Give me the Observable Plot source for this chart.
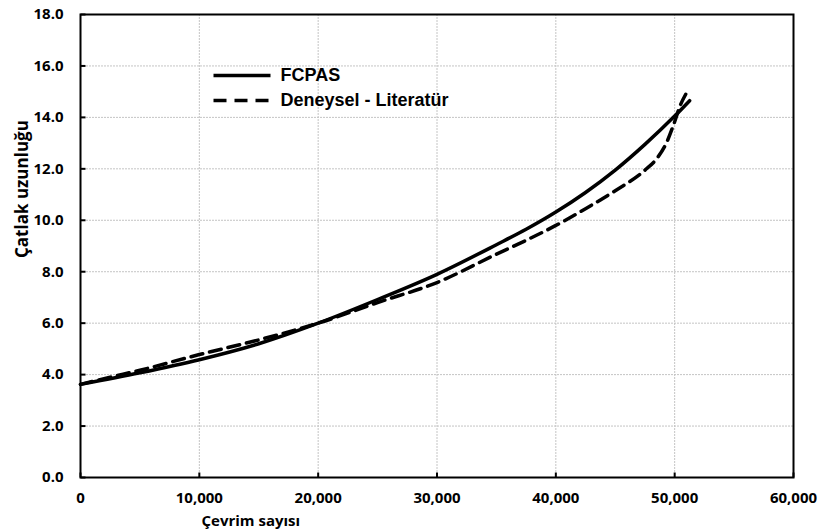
<!DOCTYPE html>
<html><head><meta charset="utf-8">
<script src="https://cdn.jsdelivr.net/npm/d3@7"></script>
<script src="https://cdn.jsdelivr.net/npm/@observablehq/plot@0.6"></script>
<style>body{margin:0;background:#fff}</style>
</head><body><div id="chart"></div>
<script>
// FCPAS (solid)
const fcpasN = [0, 5000, 10000, 15000, 20000, 25000, 30000, 35000, 37500, 40000, 42500, 45000, 47500, 50000, 51260];
const fcpasA = [3.62, 4.07, 4.58, 5.2, 6.0, 6.92, 7.9, 9.05, 9.65, 10.32, 11.08, 11.95, 12.95, 14.05, 14.65];
// Deneysel - Literatür (dashed)
const deneyN = [0, 2500, 5000, 10000, 15000, 20000, 25000, 30000, 35000, 37500, 40000, 42500, 45000, 47500, 48500, 49300, 49900, 50500, 50930];
const deneyA = [3.62, 3.9, 4.17, 4.78, 5.35, 6.0, 6.8, 7.58, 8.68, 9.22, 9.8, 10.45, 11.15, 11.95, 12.4, 13.0, 13.7, 14.5, 14.9];

const xTicks = [0, 10000, 20000, 30000, 40000, 50000, 60000];
const yTicks = [0, 2, 4, 6, 8, 10, 12, 14, 16, 18];
const legendLabels = ["FCPAS", "Deneysel - Literatür"];
const xTitle = "Çevrim sayısı";
const yTitle = "Çatlak uzunluğu";

const fcpas = fcpasN.map((n, i) => ({n, a: fcpasA[i]}));
const deney = deneyN.map((n, i) => ({n, a: deneyA[i]}));

const lineShape = {draw(ctx, l) { ctx.moveTo(0, 0); ctx.lineTo(0, -l); }};
const font = "'Open Sans', sans-serif";

const chart = Plot.plot({
  width: 823, height: 531,
  marginLeft: 80, marginRight: 30, marginTop: 14, marginBottom: 54,
  style: {fontFamily: font, background: "#fff", color: "#000"},
  x: {domain: [0, 60000]},
  y: {domain: [0, 18]},
  marks: [
    Plot.gridX(xTicks, {stroke: "#c4c4c4", strokeOpacity: 1, strokeDasharray: "2,1"}),
    Plot.gridY(yTicks, {stroke: "#c4c4c4", strokeOpacity: 1, strokeDasharray: "2,1"}),
    Plot.line(fcpas, {x: "n", y: "a", stroke: "black", strokeWidth: 3.5, curve: "monotone-x"}),
    Plot.line(deney, {x: "n", y: "a", stroke: "black", strokeWidth: 3.5, strokeDasharray: "12,7", curve: "monotone-x"}),
    Plot.vector(xTicks, {x: d => d, frameAnchor: "bottom", length: 5, rotate: 0, anchor: "start", shape: lineShape, stroke: "black", strokeWidth: 2, strokeLinecap: "butt", fill: "none"}),
    Plot.vector(yTicks, {y: d => d, frameAnchor: "left", length: 5, rotate: 90, anchor: "start", shape: lineShape, stroke: "black", strokeWidth: 2, strokeLinecap: "butt", fill: "none"}),
    Plot.frame({stroke: "black", strokeWidth: 2}),
    Plot.axisX(xTicks, {tickSize: 0, tickPadding: 15, tickFormat: d => d3.format(",")(d), fontSize: 15, fontWeight: "bold", label: null}),
    Plot.axisY(yTicks, {tickSize: 0, tickPadding: 17, tickFormat: d3.format(".1f"), fontSize: 15, fontWeight: "bold", label: null}),
    Plot.text([yTitle], {text: d => d, frameAnchor: "left", dx: -58, dy: 12, rotate: -90, lineAnchor: "middle", fontSize: 17, fontWeight: "bold", fill: "black"}),
    Plot.text([xTitle], {text: d => d, frameAnchor: "bottom-left", dx: 121, dy: 44, lineAnchor: "middle", fontSize: 15, fontWeight: "bold", fill: "black"}),
    Plot.vector([legendLabels[0]], {frameAnchor: "top-left", dx: 133, dy: 61, rotate: 90, length: 57, anchor: "start", shape: lineShape, stroke: "black", strokeWidth: 3.5, strokeLinecap: "butt", fill: "none"}),
    Plot.vector([legendLabels[1]], {frameAnchor: "top-left", dx: 133, dy: 86, rotate: 90, length: 57, anchor: "start", shape: lineShape, stroke: "black", strokeWidth: 3.5, strokeDasharray: "13,8", strokeLinecap: "butt", fill: "none"}),
    Plot.text([legendLabels[0]], {text: d => d, frameAnchor: "top-left", dx: 200, dy: 61, textAnchor: "start", lineAnchor: "middle", fontFamily: "'Liberation Sans', Arial, sans-serif", fontWeight: "bold", fontSize: 18, fill: "black"}),
    Plot.text([legendLabels[1]], {text: d => d, frameAnchor: "top-left", dx: 200, dy: 86, textAnchor: "start", lineAnchor: "middle", fontFamily: "'Liberation Sans', Arial, sans-serif", fontWeight: "bold", fontSize: 18, fill: "black"})
  ]
});
document.getElementById("chart").append(chart);
</script>
</body></html>
